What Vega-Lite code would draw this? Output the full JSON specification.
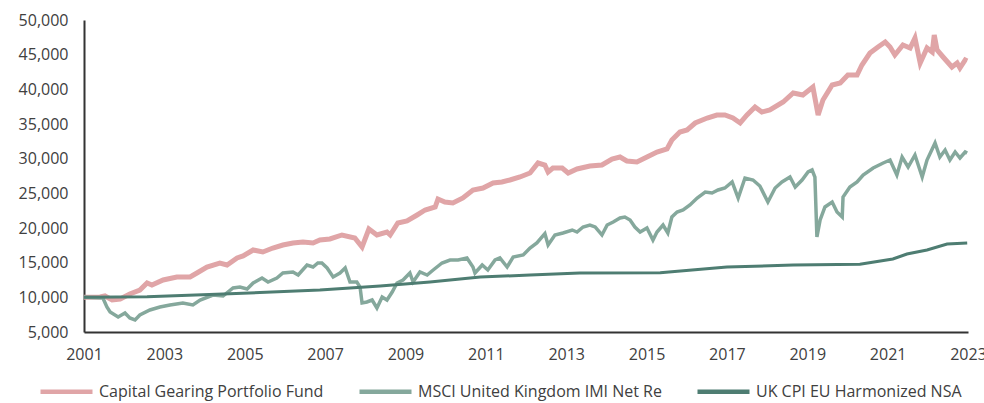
{
  "$schema": "https://vega.github.io/schema/vega-lite/v6.json",
  "width": 884,
  "height": 312,
  "autosize": "none",
  "padding": {"left": 84, "top": 20, "right": 16, "bottom": 71},
  "background": "white",
  "config": {
    "font": "Open Sans",
    "view": {"stroke": null},
    "axis": {"labelFont": "Open Sans", "labelFontSize": 16, "labelColor": "#404040", "domainColor": "#333333", "domainWidth": 2, "ticks": false, "grid": false, "title": null}
  },
  "datasets": {
    "series": [
      {"series": "Capital Gearing Portfolio Fund", "year": 2001.00, "value": 10000},
      {"series": "Capital Gearing Portfolio Fund", "year": 2001.40, "value": 10049},
      {"series": "Capital Gearing Portfolio Fund", "year": 2001.52, "value": 10193},
      {"series": "Capital Gearing Portfolio Fund", "year": 2001.70, "value": 9616},
      {"series": "Capital Gearing Portfolio Fund", "year": 2001.90, "value": 9760},
      {"series": "Capital Gearing Portfolio Fund", "year": 2002.14, "value": 10481},
      {"series": "Capital Gearing Portfolio Fund", "year": 2002.39, "value": 11058},
      {"series": "Capital Gearing Portfolio Fund", "year": 2002.57, "value": 12068},
      {"series": "Capital Gearing Portfolio Fund", "year": 2002.69, "value": 11779},
      {"series": "Capital Gearing Portfolio Fund", "year": 2002.97, "value": 12500},
      {"series": "Capital Gearing Portfolio Fund", "year": 2003.31, "value": 12933},
      {"series": "Capital Gearing Portfolio Fund", "year": 2003.64, "value": 12933},
      {"series": "Capital Gearing Portfolio Fund", "year": 2003.81, "value": 13510},
      {"series": "Capital Gearing Portfolio Fund", "year": 2004.06, "value": 14375},
      {"series": "Capital Gearing Portfolio Fund", "year": 2004.38, "value": 14952},
      {"series": "Capital Gearing Portfolio Fund", "year": 2004.56, "value": 14664},
      {"series": "Capital Gearing Portfolio Fund", "year": 2004.81, "value": 15674},
      {"series": "Capital Gearing Portfolio Fund", "year": 2004.96, "value": 15962},
      {"series": "Capital Gearing Portfolio Fund", "year": 2005.21, "value": 16828},
      {"series": "Capital Gearing Portfolio Fund", "year": 2005.45, "value": 16539},
      {"series": "Capital Gearing Portfolio Fund", "year": 2005.70, "value": 17116},
      {"series": "Capital Gearing Portfolio Fund", "year": 2005.95, "value": 17549},
      {"series": "Capital Gearing Portfolio Fund", "year": 2006.20, "value": 17837},
      {"series": "Capital Gearing Portfolio Fund", "year": 2006.45, "value": 17982},
      {"series": "Capital Gearing Portfolio Fund", "year": 2006.70, "value": 17837},
      {"series": "Capital Gearing Portfolio Fund", "year": 2006.87, "value": 18270},
      {"series": "Capital Gearing Portfolio Fund", "year": 2007.12, "value": 18415},
      {"series": "Capital Gearing Portfolio Fund", "year": 2007.42, "value": 18992},
      {"series": "Capital Gearing Portfolio Fund", "year": 2007.74, "value": 18559},
      {"series": "Capital Gearing Portfolio Fund", "year": 2007.92, "value": 17260},
      {"series": "Capital Gearing Portfolio Fund", "year": 2008.09, "value": 19857},
      {"series": "Capital Gearing Portfolio Fund", "year": 2008.29, "value": 18992},
      {"series": "Capital Gearing Portfolio Fund", "year": 2008.54, "value": 19424},
      {"series": "Capital Gearing Portfolio Fund", "year": 2008.62, "value": 18992},
      {"series": "Capital Gearing Portfolio Fund", "year": 2008.81, "value": 20722},
      {"series": "Capital Gearing Portfolio Fund", "year": 2009.04, "value": 21011},
      {"series": "Capital Gearing Portfolio Fund", "year": 2009.29, "value": 21876},
      {"series": "Capital Gearing Portfolio Fund", "year": 2009.49, "value": 22597},
      {"series": "Capital Gearing Portfolio Fund", "year": 2009.74, "value": 23030},
      {"series": "Capital Gearing Portfolio Fund", "year": 2009.81, "value": 24183},
      {"series": "Capital Gearing Portfolio Fund", "year": 2009.98, "value": 23751},
      {"series": "Capital Gearing Portfolio Fund", "year": 2010.18, "value": 23607},
      {"series": "Capital Gearing Portfolio Fund", "year": 2010.43, "value": 24328},
      {"series": "Capital Gearing Portfolio Fund", "year": 2010.68, "value": 25481},
      {"series": "Capital Gearing Portfolio Fund", "year": 2010.93, "value": 25770},
      {"series": "Capital Gearing Portfolio Fund", "year": 2011.18, "value": 26491},
      {"series": "Capital Gearing Portfolio Fund", "year": 2011.40, "value": 26635},
      {"series": "Capital Gearing Portfolio Fund", "year": 2011.60, "value": 26923},
      {"series": "Capital Gearing Portfolio Fund", "year": 2011.85, "value": 27356},
      {"series": "Capital Gearing Portfolio Fund", "year": 2012.10, "value": 27933},
      {"series": "Capital Gearing Portfolio Fund", "year": 2012.30, "value": 29376},
      {"series": "Capital Gearing Portfolio Fund", "year": 2012.47, "value": 29087},
      {"series": "Capital Gearing Portfolio Fund", "year": 2012.55, "value": 28077},
      {"series": "Capital Gearing Portfolio Fund", "year": 2012.67, "value": 28654},
      {"series": "Capital Gearing Portfolio Fund", "year": 2012.90, "value": 28654},
      {"series": "Capital Gearing Portfolio Fund", "year": 2013.05, "value": 27933},
      {"series": "Capital Gearing Portfolio Fund", "year": 2013.27, "value": 28510},
      {"series": "Capital Gearing Portfolio Fund", "year": 2013.59, "value": 28943},
      {"series": "Capital Gearing Portfolio Fund", "year": 2013.89, "value": 29087},
      {"series": "Capital Gearing Portfolio Fund", "year": 2014.14, "value": 29953},
      {"series": "Capital Gearing Portfolio Fund", "year": 2014.34, "value": 30241},
      {"series": "Capital Gearing Portfolio Fund", "year": 2014.51, "value": 29664},
      {"series": "Capital Gearing Portfolio Fund", "year": 2014.76, "value": 29520},
      {"series": "Capital Gearing Portfolio Fund", "year": 2015.01, "value": 30241},
      {"series": "Capital Gearing Portfolio Fund", "year": 2015.26, "value": 30963},
      {"series": "Capital Gearing Portfolio Fund", "year": 2015.51, "value": 31395},
      {"series": "Capital Gearing Portfolio Fund", "year": 2015.63, "value": 32693},
      {"series": "Capital Gearing Portfolio Fund", "year": 2015.83, "value": 33847},
      {"series": "Capital Gearing Portfolio Fund", "year": 2016.01, "value": 34135},
      {"series": "Capital Gearing Portfolio Fund", "year": 2016.21, "value": 35145},
      {"series": "Capital Gearing Portfolio Fund", "year": 2016.51, "value": 35866},
      {"series": "Capital Gearing Portfolio Fund", "year": 2016.75, "value": 36299},
      {"series": "Capital Gearing Portfolio Fund", "year": 2016.95, "value": 36299},
      {"series": "Capital Gearing Portfolio Fund", "year": 2017.15, "value": 35866},
      {"series": "Capital Gearing Portfolio Fund", "year": 2017.33, "value": 35145},
      {"series": "Capital Gearing Portfolio Fund", "year": 2017.50, "value": 36299},
      {"series": "Capital Gearing Portfolio Fund", "year": 2017.70, "value": 37452},
      {"series": "Capital Gearing Portfolio Fund", "year": 2017.87, "value": 36731},
      {"series": "Capital Gearing Portfolio Fund", "year": 2018.07, "value": 37020},
      {"series": "Capital Gearing Portfolio Fund", "year": 2018.40, "value": 38173},
      {"series": "Capital Gearing Portfolio Fund", "year": 2018.65, "value": 39472},
      {"series": "Capital Gearing Portfolio Fund", "year": 2018.89, "value": 39183},
      {"series": "Capital Gearing Portfolio Fund", "year": 2019.14, "value": 40337},
      {"series": "Capital Gearing Portfolio Fund", "year": 2019.27, "value": 36299},
      {"series": "Capital Gearing Portfolio Fund", "year": 2019.39, "value": 38462},
      {"series": "Capital Gearing Portfolio Fund", "year": 2019.62, "value": 40625},
      {"series": "Capital Gearing Portfolio Fund", "year": 2019.82, "value": 40914},
      {"series": "Capital Gearing Portfolio Fund", "year": 2020.01, "value": 42068},
      {"series": "Capital Gearing Portfolio Fund", "year": 2020.24, "value": 42068},
      {"series": "Capital Gearing Portfolio Fund", "year": 2020.36, "value": 43510},
      {"series": "Capital Gearing Portfolio Fund", "year": 2020.56, "value": 45241},
      {"series": "Capital Gearing Portfolio Fund", "year": 2020.76, "value": 46106},
      {"series": "Capital Gearing Portfolio Fund", "year": 2020.94, "value": 46827},
      {"series": "Capital Gearing Portfolio Fund", "year": 2021.06, "value": 46106},
      {"series": "Capital Gearing Portfolio Fund", "year": 2021.18, "value": 44952},
      {"series": "Capital Gearing Portfolio Fund", "year": 2021.38, "value": 46395},
      {"series": "Capital Gearing Portfolio Fund", "year": 2021.56, "value": 45962},
      {"series": "Capital Gearing Portfolio Fund", "year": 2021.68, "value": 47404},
      {"series": "Capital Gearing Portfolio Fund", "year": 2021.81, "value": 43798},
      {"series": "Capital Gearing Portfolio Fund", "year": 2021.98, "value": 45962},
      {"series": "Capital Gearing Portfolio Fund", "year": 2022.11, "value": 45385},
      {"series": "Capital Gearing Portfolio Fund", "year": 2022.16, "value": 47837},
      {"series": "Capital Gearing Portfolio Fund", "year": 2022.23, "value": 45673},
      {"series": "Capital Gearing Portfolio Fund", "year": 2022.38, "value": 44664},
      {"series": "Capital Gearing Portfolio Fund", "year": 2022.60, "value": 43221},
      {"series": "Capital Gearing Portfolio Fund", "year": 2022.73, "value": 43798},
      {"series": "Capital Gearing Portfolio Fund", "year": 2022.80, "value": 43077},
      {"series": "Capital Gearing Portfolio Fund", "year": 2022.93, "value": 44231},
      {"series": "Capital Gearing Portfolio Fund", "year": 2022.98, "value": 44087},

      {"series": "MSCI United Kingdom IMI Net Re", "year": 2001.00, "value": 10000},
      {"series": "MSCI United Kingdom IMI Net Re", "year": 2001.47, "value": 9904},
      {"series": "MSCI United Kingdom IMI Net Re", "year": 2001.57, "value": 8606},
      {"series": "MSCI United Kingdom IMI Net Re", "year": 2001.65, "value": 7885},
      {"series": "MSCI United Kingdom IMI Net Re", "year": 2001.85, "value": 7164},
      {"series": "MSCI United Kingdom IMI Net Re", "year": 2002.02, "value": 7741},
      {"series": "MSCI United Kingdom IMI Net Re", "year": 2002.14, "value": 7020},
      {"series": "MSCI United Kingdom IMI Net Re", "year": 2002.27, "value": 6731},
      {"series": "MSCI United Kingdom IMI Net Re", "year": 2002.39, "value": 7452},
      {"series": "MSCI United Kingdom IMI Net Re", "year": 2002.64, "value": 8173},
      {"series": "MSCI United Kingdom IMI Net Re", "year": 2002.89, "value": 8606},
      {"series": "MSCI United Kingdom IMI Net Re", "year": 2003.14, "value": 8895},
      {"series": "MSCI United Kingdom IMI Net Re", "year": 2003.46, "value": 9183},
      {"series": "MSCI United Kingdom IMI Net Re", "year": 2003.71, "value": 8895},
      {"series": "MSCI United Kingdom IMI Net Re", "year": 2003.89, "value": 9616},
      {"series": "MSCI United Kingdom IMI Net Re", "year": 2004.21, "value": 10337},
      {"series": "MSCI United Kingdom IMI Net Re", "year": 2004.46, "value": 10193},
      {"series": "MSCI United Kingdom IMI Net Re", "year": 2004.71, "value": 11347},
      {"series": "MSCI United Kingdom IMI Net Re", "year": 2004.88, "value": 11491},
      {"series": "MSCI United Kingdom IMI Net Re", "year": 2005.06, "value": 11202},
      {"series": "MSCI United Kingdom IMI Net Re", "year": 2005.21, "value": 12068},
      {"series": "MSCI United Kingdom IMI Net Re", "year": 2005.43, "value": 12789},
      {"series": "MSCI United Kingdom IMI Net Re", "year": 2005.58, "value": 12212},
      {"series": "MSCI United Kingdom IMI Net Re", "year": 2005.80, "value": 12789},
      {"series": "MSCI United Kingdom IMI Net Re", "year": 2005.95, "value": 13510},
      {"series": "MSCI United Kingdom IMI Net Re", "year": 2006.20, "value": 13654},
      {"series": "MSCI United Kingdom IMI Net Re", "year": 2006.33, "value": 13221},
      {"series": "MSCI United Kingdom IMI Net Re", "year": 2006.55, "value": 14664},
      {"series": "MSCI United Kingdom IMI Net Re", "year": 2006.70, "value": 14375},
      {"series": "MSCI United Kingdom IMI Net Re", "year": 2006.82, "value": 14952},
      {"series": "MSCI United Kingdom IMI Net Re", "year": 2006.92, "value": 14952},
      {"series": "MSCI United Kingdom IMI Net Re", "year": 2007.05, "value": 14231},
      {"series": "MSCI United Kingdom IMI Net Re", "year": 2007.20, "value": 12933},
      {"series": "MSCI United Kingdom IMI Net Re", "year": 2007.37, "value": 13510},
      {"series": "MSCI United Kingdom IMI Net Re", "year": 2007.50, "value": 14231},
      {"series": "MSCI United Kingdom IMI Net Re", "year": 2007.62, "value": 12212},
      {"series": "MSCI United Kingdom IMI Net Re", "year": 2007.79, "value": 12212},
      {"series": "MSCI United Kingdom IMI Net Re", "year": 2007.87, "value": 11491},
      {"series": "MSCI United Kingdom IMI Net Re", "year": 2007.92, "value": 9183},
      {"series": "MSCI United Kingdom IMI Net Re", "year": 2008.04, "value": 9327},
      {"series": "MSCI United Kingdom IMI Net Re", "year": 2008.17, "value": 9616},
      {"series": "MSCI United Kingdom IMI Net Re", "year": 2008.29, "value": 8462},
      {"series": "MSCI United Kingdom IMI Net Re", "year": 2008.42, "value": 10049},
      {"series": "MSCI United Kingdom IMI Net Re", "year": 2008.54, "value": 9616},
      {"series": "MSCI United Kingdom IMI Net Re", "year": 2008.67, "value": 10770},
      {"series": "MSCI United Kingdom IMI Net Re", "year": 2008.79, "value": 12068},
      {"series": "MSCI United Kingdom IMI Net Re", "year": 2008.94, "value": 12500},
      {"series": "MSCI United Kingdom IMI Net Re", "year": 2009.11, "value": 13510},
      {"series": "MSCI United Kingdom IMI Net Re", "year": 2009.19, "value": 12212},
      {"series": "MSCI United Kingdom IMI Net Re", "year": 2009.36, "value": 13654},
      {"series": "MSCI United Kingdom IMI Net Re", "year": 2009.54, "value": 13221},
      {"series": "MSCI United Kingdom IMI Net Re", "year": 2009.69, "value": 13943},
      {"series": "MSCI United Kingdom IMI Net Re", "year": 2009.91, "value": 14952},
      {"series": "MSCI United Kingdom IMI Net Re", "year": 2010.11, "value": 15385},
      {"series": "MSCI United Kingdom IMI Net Re", "year": 2010.31, "value": 15385},
      {"series": "MSCI United Kingdom IMI Net Re", "year": 2010.53, "value": 15674},
      {"series": "MSCI United Kingdom IMI Net Re", "year": 2010.68, "value": 14375},
      {"series": "MSCI United Kingdom IMI Net Re", "year": 2010.73, "value": 13510},
      {"series": "MSCI United Kingdom IMI Net Re", "year": 2010.91, "value": 14664},
      {"series": "MSCI United Kingdom IMI Net Re", "year": 2011.05, "value": 13943},
      {"series": "MSCI United Kingdom IMI Net Re", "year": 2011.23, "value": 15385},
      {"series": "MSCI United Kingdom IMI Net Re", "year": 2011.35, "value": 15674},
      {"series": "MSCI United Kingdom IMI Net Re", "year": 2011.53, "value": 14375},
      {"series": "MSCI United Kingdom IMI Net Re", "year": 2011.68, "value": 15818},
      {"series": "MSCI United Kingdom IMI Net Re", "year": 2011.93, "value": 16106},
      {"series": "MSCI United Kingdom IMI Net Re", "year": 2012.10, "value": 17116},
      {"series": "MSCI United Kingdom IMI Net Re", "year": 2012.27, "value": 17837},
      {"series": "MSCI United Kingdom IMI Net Re", "year": 2012.47, "value": 19200},
      {"series": "MSCI United Kingdom IMI Net Re", "year": 2012.55, "value": 17549},
      {"series": "MSCI United Kingdom IMI Net Re", "year": 2012.72, "value": 18992},
      {"series": "MSCI United Kingdom IMI Net Re", "year": 2012.92, "value": 19280},
      {"series": "MSCI United Kingdom IMI Net Re", "year": 2013.15, "value": 19713},
      {"series": "MSCI United Kingdom IMI Net Re", "year": 2013.27, "value": 19424},
      {"series": "MSCI United Kingdom IMI Net Re", "year": 2013.42, "value": 20146},
      {"series": "MSCI United Kingdom IMI Net Re", "year": 2013.59, "value": 20434},
      {"series": "MSCI United Kingdom IMI Net Re", "year": 2013.72, "value": 20146},
      {"series": "MSCI United Kingdom IMI Net Re", "year": 2013.89, "value": 18992},
      {"series": "MSCI United Kingdom IMI Net Re", "year": 2014.02, "value": 20434},
      {"series": "MSCI United Kingdom IMI Net Re", "year": 2014.17, "value": 20867},
      {"series": "MSCI United Kingdom IMI Net Re", "year": 2014.34, "value": 21444},
      {"series": "MSCI United Kingdom IMI Net Re", "year": 2014.46, "value": 21588},
      {"series": "MSCI United Kingdom IMI Net Re", "year": 2014.59, "value": 21155},
      {"series": "MSCI United Kingdom IMI Net Re", "year": 2014.71, "value": 20146},
      {"series": "MSCI United Kingdom IMI Net Re", "year": 2014.84, "value": 19424},
      {"series": "MSCI United Kingdom IMI Net Re", "year": 2015.01, "value": 20001},
      {"series": "MSCI United Kingdom IMI Net Re", "year": 2015.16, "value": 18270},
      {"series": "MSCI United Kingdom IMI Net Re", "year": 2015.26, "value": 19424},
      {"series": "MSCI United Kingdom IMI Net Re", "year": 2015.41, "value": 20434},
      {"series": "MSCI United Kingdom IMI Net Re", "year": 2015.53, "value": 19280},
      {"series": "MSCI United Kingdom IMI Net Re", "year": 2015.63, "value": 21588},
      {"series": "MSCI United Kingdom IMI Net Re", "year": 2015.76, "value": 22309},
      {"series": "MSCI United Kingdom IMI Net Re", "year": 2015.91, "value": 22597},
      {"series": "MSCI United Kingdom IMI Net Re", "year": 2016.08, "value": 23318},
      {"series": "MSCI United Kingdom IMI Net Re", "year": 2016.26, "value": 24328},
      {"series": "MSCI United Kingdom IMI Net Re", "year": 2016.46, "value": 25193},
      {"series": "MSCI United Kingdom IMI Net Re", "year": 2016.63, "value": 25049},
      {"series": "MSCI United Kingdom IMI Net Re", "year": 2016.78, "value": 25481},
      {"series": "MSCI United Kingdom IMI Net Re", "year": 2016.95, "value": 25770},
      {"series": "MSCI United Kingdom IMI Net Re", "year": 2017.13, "value": 26635},
      {"series": "MSCI United Kingdom IMI Net Re", "year": 2017.28, "value": 24328},
      {"series": "MSCI United Kingdom IMI Net Re", "year": 2017.45, "value": 27212},
      {"series": "MSCI United Kingdom IMI Net Re", "year": 2017.65, "value": 26923},
      {"series": "MSCI United Kingdom IMI Net Re", "year": 2017.82, "value": 26058},
      {"series": "MSCI United Kingdom IMI Net Re", "year": 2018.02, "value": 23751},
      {"series": "MSCI United Kingdom IMI Net Re", "year": 2018.20, "value": 25770},
      {"series": "MSCI United Kingdom IMI Net Re", "year": 2018.37, "value": 26635},
      {"series": "MSCI United Kingdom IMI Net Re", "year": 2018.57, "value": 27356},
      {"series": "MSCI United Kingdom IMI Net Re", "year": 2018.70, "value": 25914},
      {"series": "MSCI United Kingdom IMI Net Re", "year": 2018.87, "value": 26923},
      {"series": "MSCI United Kingdom IMI Net Re", "year": 2019.02, "value": 28077},
      {"series": "MSCI United Kingdom IMI Net Re", "year": 2019.12, "value": 28366},
      {"series": "MSCI United Kingdom IMI Net Re", "year": 2019.19, "value": 27356},
      {"series": "MSCI United Kingdom IMI Net Re", "year": 2019.24, "value": 18703},
      {"series": "MSCI United Kingdom IMI Net Re", "year": 2019.32, "value": 21155},
      {"series": "MSCI United Kingdom IMI Net Re", "year": 2019.44, "value": 23030},
      {"series": "MSCI United Kingdom IMI Net Re", "year": 2019.62, "value": 23751},
      {"series": "MSCI United Kingdom IMI Net Re", "year": 2019.74, "value": 22309},
      {"series": "MSCI United Kingdom IMI Net Re", "year": 2019.87, "value": 21588},
      {"series": "MSCI United Kingdom IMI Net Re", "year": 2019.89, "value": 24472},
      {"series": "MSCI United Kingdom IMI Net Re", "year": 2020.06, "value": 25914},
      {"series": "MSCI United Kingdom IMI Net Re", "year": 2020.24, "value": 26635},
      {"series": "MSCI United Kingdom IMI Net Re", "year": 2020.39, "value": 27645},
      {"series": "MSCI United Kingdom IMI Net Re", "year": 2020.64, "value": 28654},
      {"series": "MSCI United Kingdom IMI Net Re", "year": 2020.89, "value": 29376},
      {"series": "MSCI United Kingdom IMI Net Re", "year": 2021.06, "value": 29808},
      {"series": "MSCI United Kingdom IMI Net Re", "year": 2021.23, "value": 27645},
      {"series": "MSCI United Kingdom IMI Net Re", "year": 2021.36, "value": 30241},
      {"series": "MSCI United Kingdom IMI Net Re", "year": 2021.51, "value": 28799},
      {"series": "MSCI United Kingdom IMI Net Re", "year": 2021.68, "value": 30530},
      {"series": "MSCI United Kingdom IMI Net Re", "year": 2021.86, "value": 27356},
      {"series": "MSCI United Kingdom IMI Net Re", "year": 2021.98, "value": 29808},
      {"series": "MSCI United Kingdom IMI Net Re", "year": 2022.18, "value": 32260},
      {"series": "MSCI United Kingdom IMI Net Re", "year": 2022.30, "value": 30241},
      {"series": "MSCI United Kingdom IMI Net Re", "year": 2022.43, "value": 31251},
      {"series": "MSCI United Kingdom IMI Net Re", "year": 2022.55, "value": 29808},
      {"series": "MSCI United Kingdom IMI Net Re", "year": 2022.68, "value": 30963},
      {"series": "MSCI United Kingdom IMI Net Re", "year": 2022.80, "value": 30097},
      {"series": "MSCI United Kingdom IMI Net Re", "year": 2022.93, "value": 30963},
      {"series": "MSCI United Kingdom IMI Net Re", "year": 2022.98, "value": 30818},

      {"series": "UK CPI EU Harmonized NSA", "year": 2001.00, "value": 10000},
      {"series": "UK CPI EU Harmonized NSA", "year": 2002.57, "value": 10100},
      {"series": "UK CPI EU Harmonized NSA", "year": 2004.46, "value": 10481},
      {"series": "UK CPI EU Harmonized NSA", "year": 2006.87, "value": 11058},
      {"series": "UK CPI EU Harmonized NSA", "year": 2008.37, "value": 11635},
      {"series": "UK CPI EU Harmonized NSA", "year": 2009.61, "value": 12212},
      {"series": "UK CPI EU Harmonized NSA", "year": 2010.86, "value": 12933},
      {"series": "UK CPI EU Harmonized NSA", "year": 2012.10, "value": 13221},
      {"series": "UK CPI EU Harmonized NSA", "year": 2013.34, "value": 13510},
      {"series": "UK CPI EU Harmonized NSA", "year": 2015.34, "value": 13560},
      {"series": "UK CPI EU Harmonized NSA", "year": 2017.00, "value": 14375},
      {"series": "UK CPI EU Harmonized NSA", "year": 2018.65, "value": 14664},
      {"series": "UK CPI EU Harmonized NSA", "year": 2020.31, "value": 14760},
      {"series": "UK CPI EU Harmonized NSA", "year": 2021.13, "value": 15530},
      {"series": "UK CPI EU Harmonized NSA", "year": 2021.48, "value": 16251},
      {"series": "UK CPI EU Harmonized NSA", "year": 2021.98, "value": 16828},
      {"series": "UK CPI EU Harmonized NSA", "year": 2022.48, "value": 17693},
      {"series": "UK CPI EU Harmonized NSA", "year": 2022.98, "value": 17837}
    ]
  },
  "data": {"name": "series"},
  "encoding": {
    "x": {
      "field": "year", "type": "quantitative",
      "scale": {"domain": [2001, 2023], "nice": false, "zero": false},
      "axis": {"values": [2001, 2003, 2005, 2007, 2009, 2011, 2013, 2015, 2017, 2019, 2021, 2023], "format": "d", "labelPadding": 14, "labelFlush": false}
    },
    "y": {
      "field": "value", "type": "quantitative",
      "scale": {"domain": [5000, 50000], "nice": false, "zero": false},
      "axis": {"values": [5000, 10000, 15000, 20000, 25000, 30000, 35000, 40000, 45000, 50000], "format": ",d", "labelPadding": 16}
    },
    "color": {
      "field": "series", "type": "nominal",
      "scale": {
        "domain": ["Capital Gearing Portfolio Fund", "MSCI United Kingdom IMI Net Re", "UK CPI EU Harmonized NSA"],
        "range": ["#E0A5A7", "#85A89C", "#4E7D72"]
      },
      "legend": {
        "title": null, "orient": "none", "direction": "horizontal",
        "legendX": -46, "legendY": 343,
        "symbolType": "stroke", "symbolSize": 2704, "symbolStrokeWidth": 4.5,
        "labelFont": "Open Sans", "labelFontSize": 16, "labelColor": "#404040",
        "labelOffset": 4, "columnPadding": 26, "labelLimit": 400
      }
    }
  },
  "layer": [
    {"transform": [{"filter": "datum.series === 'Capital Gearing Portfolio Fund'"}], "mark": {"type": "line", "strokeWidth": 5}},
    {"transform": [{"filter": "datum.series === 'MSCI United Kingdom IMI Net Re'"}], "mark": {"type": "line", "strokeWidth": 3.5}},
    {"transform": [{"filter": "datum.series === 'UK CPI EU Harmonized NSA'"}], "mark": {"type": "line", "strokeWidth": 3}}
  ]
}
